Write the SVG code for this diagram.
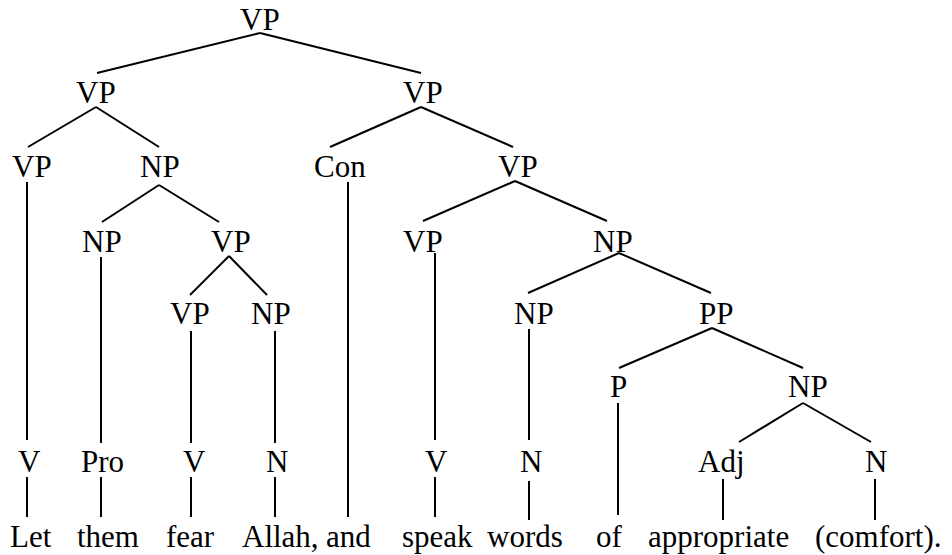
<svg xmlns="http://www.w3.org/2000/svg" width="952" height="555" viewBox="0 0 952 555">
<rect width="952" height="555" fill="#fff"/>
<g id="connectors" stroke="#000" stroke-width="2">
<line x1="260" y1="33" x2="97" y2="73"/>
<line x1="260" y1="33" x2="421" y2="73"/>
<line x1="96" y1="107" x2="28" y2="147"/>
<line x1="96" y1="107" x2="159" y2="147"/>
<line x1="421" y1="107" x2="330" y2="147"/>
<line x1="421" y1="107" x2="513" y2="147"/>
<line x1="27" y1="182" x2="27" y2="440"/>
<line x1="159" y1="185" x2="102" y2="222"/>
<line x1="159" y1="185" x2="219" y2="222"/>
<line x1="348" y1="182" x2="348" y2="517"/>
<line x1="515" y1="181" x2="423" y2="221"/>
<line x1="515" y1="181" x2="607" y2="221"/>
<line x1="101" y1="257" x2="101" y2="443"/>
<line x1="229" y1="256" x2="190" y2="295"/>
<line x1="229" y1="256" x2="267" y2="295"/>
<line x1="435" y1="253" x2="435" y2="440"/>
<line x1="619" y1="253" x2="528" y2="293"/>
<line x1="619" y1="253" x2="711" y2="293"/>
<line x1="191" y1="331" x2="191" y2="443"/>
<line x1="275" y1="331" x2="275" y2="443"/>
<line x1="529" y1="329" x2="529" y2="440"/>
<line x1="712" y1="328" x2="619" y2="368"/>
<line x1="712" y1="328" x2="803" y2="368"/>
<line x1="618" y1="403" x2="618" y2="515"/>
<line x1="803" y1="403" x2="739" y2="442"/>
<line x1="803" y1="403" x2="871" y2="442"/>
<line x1="27" y1="477" x2="27" y2="517"/>
<line x1="101" y1="477" x2="101" y2="517"/>
<line x1="191" y1="477" x2="191" y2="517"/>
<line x1="275" y1="477" x2="275" y2="517"/>
<line x1="435" y1="477" x2="435" y2="517"/>
<line x1="529" y1="481" x2="529" y2="520"/>
<line x1="723" y1="479" x2="723" y2="520"/>
<line x1="875" y1="479" x2="875" y2="520"/>
</g>
<g id="n-vp0"><text x="240" y="30" font-family="Liberation Serif" font-size="31">VP</text></g>
<g id="n-vp1a"><text x="76" y="103" font-family="Liberation Serif" font-size="31">VP</text></g>
<g id="n-vp1b"><text x="403" y="103" font-family="Liberation Serif" font-size="31">VP</text></g>
<g id="n-vp2a"><text x="12" y="177" font-family="Liberation Serif" font-size="31">VP</text></g>
<g id="n-np2a"><text x="140" y="177" font-family="Liberation Serif" font-size="31">NP</text></g>
<g id="n-con"><text x="314" y="177" font-family="Liberation Serif" font-size="31">Con</text></g>
<g id="n-vp2b"><text x="498" y="177" font-family="Liberation Serif" font-size="31">VP</text></g>
<g id="n-np3a"><text x="82" y="252" font-family="Liberation Serif" font-size="31">NP</text></g>
<g id="n-vp3a"><text x="211" y="252" font-family="Liberation Serif" font-size="31">VP</text></g>
<g id="n-vp3b"><text x="403" y="252" font-family="Liberation Serif" font-size="31">VP</text></g>
<g id="n-np3b"><text x="593" y="252" font-family="Liberation Serif" font-size="31">NP</text></g>
<g id="n-vp4a"><text x="170" y="324" font-family="Liberation Serif" font-size="31">VP</text></g>
<g id="n-np4a"><text x="251" y="324" font-family="Liberation Serif" font-size="31">NP</text></g>
<g id="n-np4b"><text x="514" y="324" font-family="Liberation Serif" font-size="31">NP</text></g>
<g id="n-pp"><text x="699" y="324" font-family="Liberation Serif" font-size="31">PP</text></g>
<g id="n-p"><text x="610" y="397" font-family="Liberation Serif" font-size="31">P</text></g>
<g id="n-np5"><text x="788" y="397" font-family="Liberation Serif" font-size="31">NP</text></g>
<g id="n-v1"><text x="18" y="472" font-family="Liberation Serif" font-size="31">V</text></g>
<g id="n-pro"><text x="81" y="472" font-family="Liberation Serif" font-size="31">Pro</text></g>
<g id="n-v2"><text x="183" y="472" font-family="Liberation Serif" font-size="31">V</text></g>
<g id="n-n1"><text x="266" y="472" font-family="Liberation Serif" font-size="31">N</text></g>
<g id="n-v3"><text x="425" y="472" font-family="Liberation Serif" font-size="31">V</text></g>
<g id="n-n2"><text x="520" y="472" font-family="Liberation Serif" font-size="31">N</text></g>
<g id="n-adj"><text x="698" y="472" font-family="Liberation Serif" font-size="31">Adj</text></g>
<g id="n-n3"><text x="865" y="472" font-family="Liberation Serif" font-size="31">N</text></g>
<g id="w-let"><text x="10" y="547" font-family="Liberation Serif" font-size="31">Let</text></g>
<g id="w-them"><text x="77" y="547" font-family="Liberation Serif" font-size="31">them</text></g>
<g id="w-fear"><text x="166" y="547" font-family="Liberation Serif" font-size="31">fear</text></g>
<g id="w-allah"><text x="242" y="547" font-family="Liberation Serif" font-size="31">Allah,</text></g>
<g id="w-and"><text x="326" y="547" font-family="Liberation Serif" font-size="31">and</text></g>
<g id="w-speak"><text x="402" y="547" font-family="Liberation Serif" font-size="31">speak</text></g>
<g id="w-words"><text x="487" y="547" font-family="Liberation Serif" font-size="31">words</text></g>
<g id="w-of"><text x="596" y="547" font-family="Liberation Serif" font-size="31">of</text></g>
<g id="w-appropriate"><text x="648" y="547" font-family="Liberation Serif" font-size="31">appropriate</text></g>
<g id="w-comfort"><text x="815" y="547" font-family="Liberation Serif" font-size="31">(comfort).</text></g>
</svg>
